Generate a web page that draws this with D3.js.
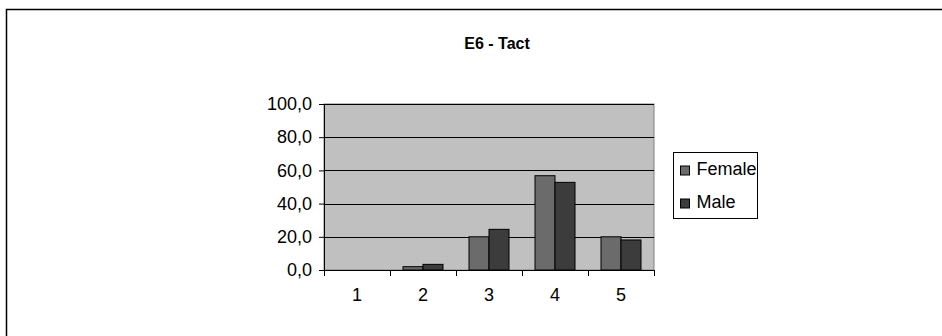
<!DOCTYPE html>
<html>
<head>
<meta charset="utf-8">
<script src="https://cdn.jsdelivr.net/npm/d3@7"></script>
<style>
  body { margin: 0; background: #fff; }
  svg { display: block; font-family: "Liberation Sans", Arial, sans-serif; }
</style>
</head>
<body>
<div id="chart"></div>
<script>
var width = 942, height = 336;

// data
var categories = ["1", "2", "3", "4", "5"];
var seriesNames = ["Female", "Male"];
var female = [0, 2.0, 20.0, 56.8, 20.0];
var male = [0, 3.4, 24.5, 52.8, 18.1];
var yTicks = [0, 20, 40, 60, 80, 100];
var colors = ["#6b6b6b", "#3c3c3c"];

var margin = {left: 324, right: 288, top: 104, bottom: 66};
var plotW = width - margin.left - margin.right,
    plotH = height - margin.top - margin.bottom;

var rows = categories.map((c, i) => ({cat: c, values: [female[i], male[i]]}));

var svg = d3.select("#chart").append("svg")
    .attr("width", width)
    .attr("height", height);

// outer frame (runs off the right/bottom edge)
svg.append("rect")
    .attr("x", 6.5).attr("y", 9.5)
    .attr("width", width + 10).attr("height", height + 10)
    .attr("fill", "#fff")
    .attr("stroke", "#000")
    .attr("stroke-width", 1.5);

svg.append("text")
    .attr("x", 497).attr("y", 49)
    .attr("text-anchor", "middle")
    .attr("font-size", 16)
    .attr("font-weight", "bold")
    .text("E6 - Tact");

var x = d3.scaleBand().domain(categories).range([0, plotW]);
var x1 = d3.scaleBand().domain(seriesNames).range([0, x.bandwidth()]).paddingOuter(0.65);
var y = d3.scaleLinear().domain([0, 100]).range([plotH, 0]);

var g = svg.append("g").attr("transform", `translate(${margin.left},${margin.top})`);

g.append("rect")
    .attr("width", plotW).attr("height", plotH)
    .attr("fill", "#c0c0c0")
    .attr("stroke", "#808080");

// gridlines
g.append("g").selectAll("line")
    .data(yTicks.filter(d => d > 0))
    .enter().append("line")
    .attr("x1", 0).attr("x2", plotW)
    .attr("y1", d => Math.round(y(d)) + 0.5).attr("y2", d => Math.round(y(d)) + 0.5)
    .attr("stroke", "#000");

// bars
g.append("g").selectAll("g")
    .data(rows)
    .enter().append("g")
    .attr("transform", d => `translate(${x(d.cat)},0)`)
    .selectAll("rect")
    .data(d => d.values.map((v, i) => ({key: seriesNames[i], v: v, i: i})).filter(d => d.v > 0))
    .enter().append("rect")
    .attr("x", d => x1(d.key))
    .attr("y", d => y(d.v))
    .attr("width", x1.bandwidth())
    .attr("height", d => plotH - y(d.v))
    .attr("fill", d => colors[d.i])
    .attr("stroke", "#000")
    .attr("stroke-width", 1);

// y axis
var yAxis = g.append("g")
    .call(d3.axisLeft(y).tickValues(yTicks).tickSize(5).tickPadding(7)
        .tickFormat(d => d3.format(".1f")(d).replace(".", ",")));
yAxis.select(".domain").attr("stroke", "#000");
yAxis.selectAll("text").attr("font-size", 18).attr("fill", "#000");
yAxis.attr("font-family", null);

// x axis
var xAxis = g.append("g")
    .attr("transform", `translate(0,${plotH})`)
    .call(d3.axisBottom(x).tickSize(0).tickPadding(18));
xAxis.select(".domain").attr("stroke", "#000");
xAxis.selectAll("text").attr("font-size", 18).attr("fill", "#000");
xAxis.attr("font-family", null);
// category separator ticks
xAxis.selectAll("line.sep")
    .data(categories.concat(["end"]))
    .enter().append("line")
    .attr("class", "sep")
    .attr("x1", (d, i) => i * x.step() + 0.5).attr("x2", (d, i) => i * x.step() + 0.5)
    .attr("y1", 0).attr("y2", 6)
    .attr("stroke", "#000");

// legend
var legend = svg.append("g").attr("transform", "translate(673.5,152.5)");
legend.append("rect")
    .attr("width", 84).attr("height", 66)
    .attr("fill", "#fff").attr("stroke", "#000");
var items = legend.selectAll("g.item")
    .data(seriesNames)
    .enter().append("g")
    .attr("class", "item")
    .attr("transform", (d, i) => `translate(0,${13.5 + i * 33})`);
items.append("rect")
    .attr("x", 7).attr("y", 0)
    .attr("width", 9).attr("height", 9)
    .attr("fill", (d, i) => colors[i])
    .attr("stroke", "#000");
items.append("text")
    .attr("x", 23).attr("y", 9)
    .attr("font-size", 18)
    .text(d => d);
</script>
</body>
</html>
